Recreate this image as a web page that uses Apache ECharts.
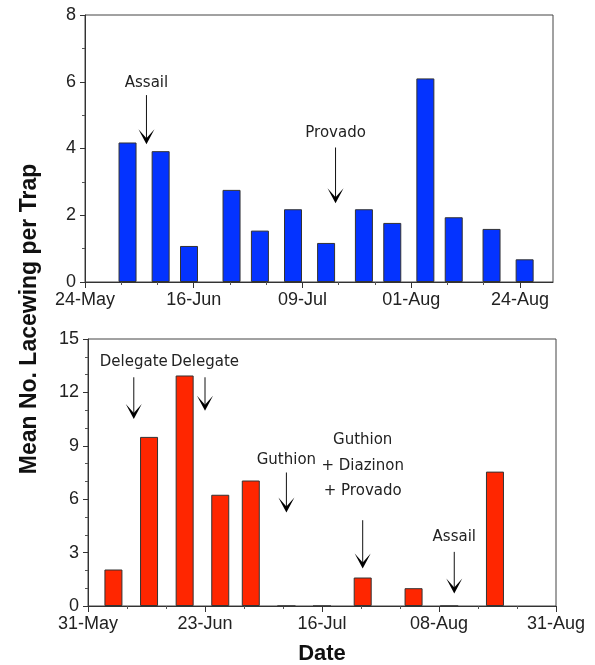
<!DOCTYPE html>
<html>
<head>
<meta charset="utf-8">
<script src="https://cdn.jsdelivr.net/npm/echarts@6/dist/echarts.min.js"></script>
<style>html,body{margin:0;padding:0;background:#fff;}#c{width:595px;height:665px;}</style>
</head>
<body>
<div id="c"></div>
<script>
// ---- data ----
const topOrigin = '05-24';
const topEnd = '08-31';
const topTickLabels = ['24-May', '16-Jun', '09-Jul', '01-Aug', '24-Aug'];
const topDates = ['06-02','06-09','06-15','06-24','06-30','07-07','07-14','07-22','07-28','08-04','08-10','08-18','08-25'];
const topValues = [4.18, 3.92, 1.08, 2.76, 1.54, 2.18, 1.17, 2.18, 1.77, 6.1, 1.94, 1.59, 0.68];

const bottomOrigin = '05-31';
const bottomEnd = '08-31';
const bottomTickLabels = ['31-May', '23-Jun', '16-Jul', '08-Aug', '31-Aug'];
const bottomDates = ['06-05','06-12','06-19','06-26','07-02','07-09','07-16','07-24','08-03','08-10','08-19'];
const bottomValues = [2.05, 9.5, 12.95, 6.25, 7.05, 0, 0, 1.6, 1.0, 0, 7.55];

const topAnnLabels = ['Assail', 'Provado'];
const topAnnDates = ['06-06', '07-16'];
const topAnnTextY = [5.96, 4.45];
const topAnnFrom = [5.6, 4.03];
const topAnnTo = [4.13, 2.36];

const bottomAnnLabels = ['Delegate', 'Delegate', 'Guthion', 'Guthion\n+ Diazinon\n+ Provado', 'Assail'];
const bottomAnnDates = ['06-09', '06-23', '07-09', '07-24', '08-11'];
const bottomAnnTextY = [13.69, 13.69, 8.19, 7.87, 3.85];
const bottomAnnFrom = [12.85, 12.85, 7.5, 4.82, 3.04];
const bottomAnnTo = [10.5, 10.97, 5.25, 2.1, 0.7];

const tickStepDays = 23;

// ---- helpers ----
function dayOf(md) {
  const [m, d] = md.split('-').map(Number);
  return Date.UTC(2021, m - 1, d) / 86400000;
}
function off(md, origin) { return dayOf(md) - dayOf(origin); }

const tickFont = 'Liberation Sans, Arial, Helvetica, sans-serif';
const annFont = 'DejaVu Sans, Verdana, sans-serif';

function xAxisFor(gridIndex, origin, end, labels) {
  const ticks = labels.map((_, i) => i * tickStepDays);
  return {
    type: 'value', gridIndex: gridIndex,
    min: 0, max: off(end, origin), interval: tickStepDays,
    axisLine: { show: true, onZero: false, lineStyle: { color: '#333', width: 1 } },
    axisTick: { show: true, inside: false, length: 6, customValues: ticks, lineStyle: { color: '#333' } },
    minorTick: { show: true, splitNumber: 3, length: 3, lineStyle: { color: '#555' } },
    axisLabel: {
      customValues: ticks,
      fontFamily: tickFont, fontSize: 18, color: '#222', margin: 9,
      formatter: function (v) {
        const i = Math.round(v / tickStepDays);
        return (Math.abs(v - i * tickStepDays) < 1e-6 && labels[i]) ? labels[i] : '';
      }
    },
    splitLine: { show: false }, minorSplitLine: { show: false }
  };
}
function yAxisFor(gridIndex, max, interval, minorSplit) {
  return {
    type: 'value', gridIndex: gridIndex,
    min: 0, max: max, interval: interval,
    axisLine: { show: true, lineStyle: { color: '#333', width: 1 } },
    axisTick: { show: true, length: 5, lineStyle: { color: '#333' } },
    minorTick: { show: true, splitNumber: minorSplit, length: 3, lineStyle: { color: '#555' } },
    axisLabel: { fontFamily: tickFont, fontSize: 18, color: '#222', margin: 9 },
    splitLine: { show: false }, minorSplitLine: { show: false }
  };
}

function annSeries(idx, labels, dates, origin, textY, from, to) {
  const data = labels.map((l, i) => [off(dates[i], origin), textY[i], from[i], to[i]]);
  return {
    type: 'custom', xAxisIndex: idx, yAxisIndex: idx, clip: false, silent: true,
    encode: { x: 0, y: 1 },
    data: data,
    z: 10,
    renderItem: function (params, api) {
      const x = api.value(0);
      const pt = api.coord([x, api.value(1)]);
      const p0 = api.coord([x, api.value(2)]);
      const p1 = api.coord([x, api.value(3)]);
      const tx = p1[0], ty = p1[1];
      return {
        type: 'group',
        children: [
          { type: 'line', shape: { x1: p0[0], y1: p0[1], x2: tx, y2: ty - 4 },
            style: { stroke: '#111', lineWidth: 1 } },
          { type: 'polygon', shape: { points: [[tx, ty], [tx - 8, ty - 15], [tx, ty - 6], [tx + 8, ty - 15]] },
            style: { fill: '#000' } },
          { type: 'text', style: { text: labels[params.dataIndex], x: pt[0], y: pt[1],
            align: 'center', verticalAlign: 'middle', font: '15px ' + annFont,
            fill: '#222', lineHeight: 25.5 } }
        ]
      };
    }
  };
}

const chart = echarts.init(document.getElementById('c'), null, { renderer: 'canvas' });
chart.setOption({
  animation: false,
  backgroundColor: '#fff',
  grid: [
    { left: 85, right: 42, top: 15, height: 267, show: true, borderColor: '#444', borderWidth: 1, backgroundColor: 'transparent' },
    { left: 88, right: 39, top: 339, height: 267, show: true, borderColor: '#444', borderWidth: 1, backgroundColor: 'transparent' }
  ],
  xAxis: [
    xAxisFor(0, topOrigin, topEnd, topTickLabels),
    xAxisFor(1, bottomOrigin, bottomEnd, bottomTickLabels)
  ],
  yAxis: [
    yAxisFor(0, 8, 2, 2),
    yAxisFor(1, 15, 3, 3)
  ],
  series: [
    { type: 'bar', xAxisIndex: 0, yAxisIndex: 0, barWidth: 18,
      data: topDates.map((d, i) => [off(d, topOrigin), topValues[i]]),
      itemStyle: { color: '#0433ff', borderColor: '#333', borderWidth: 1 } },
    { type: 'bar', xAxisIndex: 1, yAxisIndex: 1, barWidth: 18,
      data: bottomDates.map((d, i) => [off(d, bottomOrigin), bottomValues[i]]),
      itemStyle: { color: '#ff2600', borderColor: '#333', borderWidth: 1 } },
    annSeries(0, topAnnLabels, topAnnDates, topOrigin, topAnnTextY, topAnnFrom, topAnnTo),
    annSeries(1, bottomAnnLabels, bottomAnnDates, bottomOrigin, bottomAnnTextY, bottomAnnFrom, bottomAnnTo)
  ],
  graphic: [
    { type: 'text', x: 30, y: 319, rotation: Math.PI / 2,
      style: { text: 'Mean No. Lacewing per Trap', font: 'bold 23px ' + tickFont, fill: '#111',
        align: 'center', verticalAlign: 'middle' } },
    { type: 'text', x: 322, y: 654,
      style: { text: 'Date', font: 'bold 22px ' + tickFont, fill: '#111',
        align: 'center', verticalAlign: 'middle' } }
  ]
});
</script>
</body>
</html>
